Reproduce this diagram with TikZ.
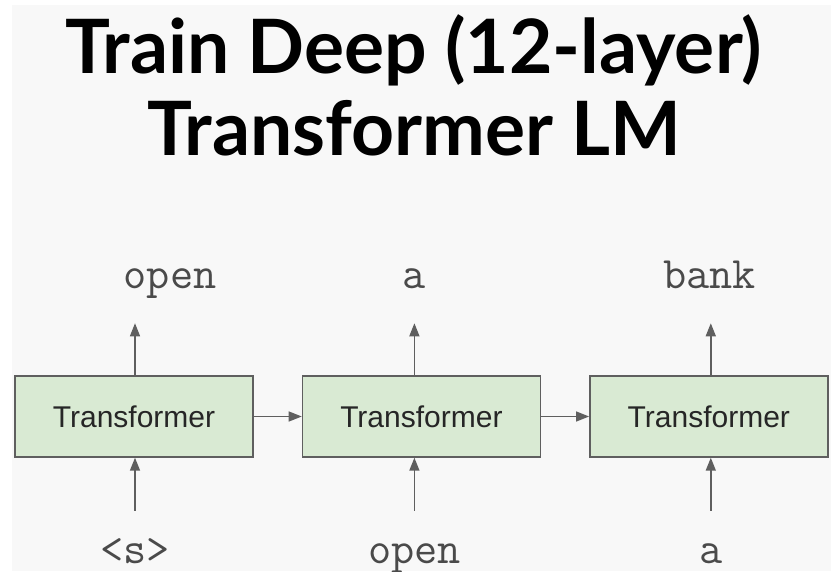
\documentclass[tikz,border=0pt]{standalone}
\usepackage{fontspec}
\setmainfont{Liberation Sans}
\newfontfamily\titlefont{Lato}
\usetikzlibrary{positioning,arrows.meta}

\definecolor{slidebg}{HTML}{F8F8F8}
\definecolor{boxfill}{HTML}{D9EAD3}
\definecolor{boxline}{HTML}{5F5F5F}
\definecolor{wordgray}{HTML}{4A4A4A}

\begin{document}
\begin{tikzpicture}[
    x=1pt, y=1pt,
    node distance=48pt,
    tbox/.style={rectangle, draw=boxline, fill=boxfill, line width=1.4pt,
                 minimum width=238pt, minimum height=81pt, inner sep=0pt,
                 font=\fontsize{30}{36}\selectfont, text=black!85},
    word/.style={inner sep=0pt, text height=26pt, text depth=10pt,
                 font=\ttfamily\fontsize{45}{54}\selectfont, text=wordgray},
    title/.style={anchor=base, inner sep=0pt,
                  font=\titlefont\bfseries\fontsize{75}{90}\selectfont},
    arrow/.style={-{Triangle[length=13pt,width=10pt]}, line width=1.4pt, boxline}
]
\useasboundingbox (0,0) rectangle (831,571);
\fill[white] (0,0) rectangle (831,571);
\fill[slidebg] (12,0) rectangle (831,566);

% title
\node (head1) [title] at (413.5,497) {Train Deep (12-layer)};
\node (head2) [title] at (414.5,415) {Transformer LM};

% transformer blocks
\node (t1) [tbox] at (134,154.5) {Transformer};
\node (t2) [tbox, right=of t1] {Transformer};
\node (t3) [tbox, right=of t2] {Transformer};

% outputs
\node (o1) [word, above=77pt of t1, xshift=36pt] {open};
\node (o2) [word, above=77pt of t2, xshift=-7pt] {a};
\node (o3) [word, above=77pt of t3, xshift=1pt] {bank};

% inputs
\node (i1) [word, below=80pt of t1, xshift=1pt] {<s>};
\node (i2) [word, below=80pt of t2, xshift=-7pt] {open};
\node (i3) [word, below=80pt of t3, xshift=2pt] {a};

\draw [arrow] (t1) -- (t2);
\draw [arrow] (t2) -- (t3);

\draw [arrow, shorten <=27pt] (i1) -- (i1 |- t1.south);
\draw [arrow, shorten <=27pt] (i2) -- (i2 |- t2.south);
\draw [arrow, shorten <=27pt] (i3) -- (i3 |- t3.south);

\draw [arrow, shorten >=25pt] (t1.north -| i1) -- (i1 |- o1.south);
\draw [arrow, shorten >=25pt] (t2.north -| i2) -- (i2 |- o2.south);
\draw [arrow, shorten >=25pt] (t3.north -| i3) -- (i3 |- o3.south);

\end{tikzpicture}
\end{document}
